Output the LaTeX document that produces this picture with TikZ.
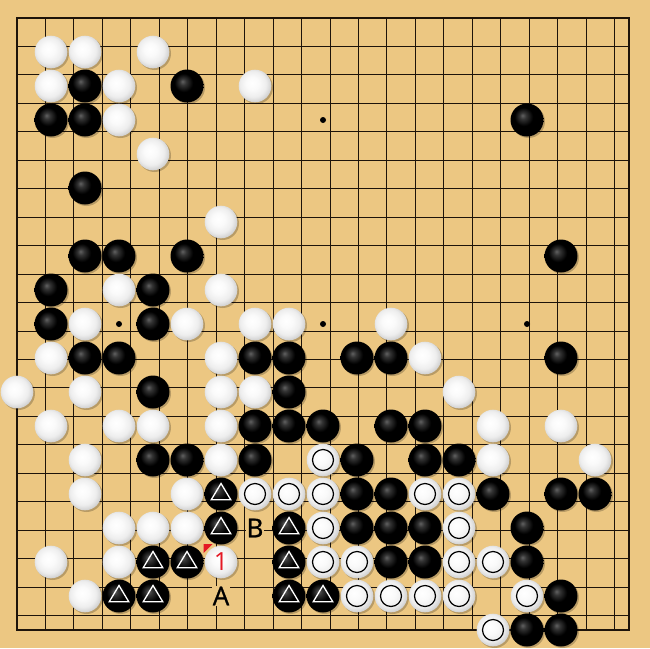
\documentclass[tikz,border=0pt]{standalone}
\usepackage{fontspec}
\setmainfont{Open Sans}
\newfontfamily\lblfont{Open Sans}[FakeBold=1]
\definecolor{wood}{RGB}{236,199,130}
\definecolor{gridc}{RGB}{30,20,10}
\definecolor{mred}{RGB}{228,24,36}
\pgfdeclareradialshading{bstone}{\pgfpoint{-7bp}{7bp}}{color(0bp)=(black!62!white); color(5bp)=(black!80!white); color(14bp)=(black); color(50bp)=(black)}
\pgfdeclareradialshading{wstone}{\pgfpoint{-5bp}{5bp}}{color(0bp)=(white); color(10bp)=(white!98!black); color(20bp)=(white!93!black); color(27bp)=(white!82!black); color(34bp)=(white!72!black); color(50bp)=(white!70!black)}
\tikzset{
  shd/.style={fill=black,opacity=0.22},
  tri/.style={draw=white,line width=1.3pt,line join=miter},
  cir/.style={draw=black,line width=1.2pt},
  lbl/.style={fill=wood,inner sep=0.3pt,font=\lblfont\fontsize{26}{26}\selectfont},
  num/.style={text=mred,inner sep=0pt,font=\fontsize{25}{25}\selectfont},
}
\def\blacklist{2/2,5/2,1/3,2/3,15/3,2/5,2/7,3/7,5/7,16/7,1/8,4/8,1/9,4/9,
  2/10,3/10,7/10,8/10,10/10,11/10,16/10,4/11,8/11,7/12,8/12,9/12,11/12,12/12,
  4/13,5/13,7/13,10/13,12/13,13/13,10/14,11/14,14/14,16/14,17/14,
  10/15,11/15,12/15,15/15,11/16,12/16,15/16,16/17,15/18,16/18}
\def\trilist{6/14,6/15,8/15,4/16,5/16,8/16,3/17,4/17,8/17,9/17}
\def\whitelist{1/1,2/1,4/1,1/2,3/2,7/2,3/3,4/4,6/6,3/8,6/8,2/9,5/9,7/9,8/9,11/9,
  1/10,6/10,12/10,0/11,2/11,6/11,7/11,13/11,1/12,3/12,4/12,6/12,14/12,16/12,
  2/13,6/13,14/13,17/13,2/14,5/14,3/15,4/15,5/15,1/16,3/16,6/16,2/17}
\def\circlist{9/13,7/14,8/14,9/14,12/14,13/14,9/15,13/15,9/16,10/16,13/16,14/16,
  10/17,11/17,12/17,13/17,15/17,14/18}
\begin{document}
\begin{tikzpicture}[x=1pt,y=-1pt]
\fill[wood] (0,0) rectangle (650,648);
\useasboundingbox (0,0) rectangle (650,648);
\begin{scope}[shift={(17,18)},x=34pt,y=-34pt]
  \draw[gridc,line width=0.9pt] (0,0) grid (18,18);
  \draw[gridc,line width=1.8pt] (0,0) rectangle (18,18);
  \foreach \c/\r in {3/3,9/3,15/3,3/9,9/9,15/9,3/15,9/15,15/15}
    \fill (\c,\r) circle (3pt);
  % shadows
  \foreach \c/\r in \blacklist {\fill[shd] ([shift={(1.5pt,-1.5pt)}]\c,\r) circle (16.5pt);}
  \foreach \c/\r in \trilist {\fill[shd] ([shift={(1.5pt,-1.5pt)}]\c,\r) circle (16.5pt);}
  \foreach \c/\r in \whitelist {\fill[shd] ([shift={(1.5pt,-1.5pt)}]\c,\r) circle (16.5pt);}
  \foreach \c/\r in \circlist {\fill[shd] ([shift={(1.5pt,-1.5pt)}]\c,\r) circle (16.5pt);}
  % stones
  \foreach \c/\r in \blacklist {\shade[shading=bstone] (\c,\r) circle (16.5pt);}
  \foreach \c/\r in \trilist {\shade[shading=bstone] (\c,\r) circle (16.5pt);
    \draw[tri] ([shift={(0pt,10.5pt)}]\c,\r) -- ([shift={(-9.8pt,-5.8pt)}]\c,\r)
      -- ([shift={(9.8pt,-5.8pt)}]\c,\r) -- cycle;}
  \foreach \c/\r in \whitelist {\shade[shading=wstone] (\c,\r) circle (16.3pt);}
  \foreach \c/\r in \circlist {\shade[shading=wstone] (\c,\r) circle (16.3pt);
    \draw[cir] (\c,\r) circle (10.5pt);}
  % last move marker
  \fill[mred] ([shift={(-17.5pt,18pt)}]6,16) -- ([shift={(-8.5pt,18pt)}]6,16)
    -- ([shift={(-17.5pt,9pt)}]6,16) -- cycle;
  \node[num] (mv1) at (6,16) {1};
  \node[lbl] (lblA) at (6,17) {A};
  \node[lbl] (lblB) at (7,15) {B};
\end{scope}
\end{tikzpicture}
\end{document}
